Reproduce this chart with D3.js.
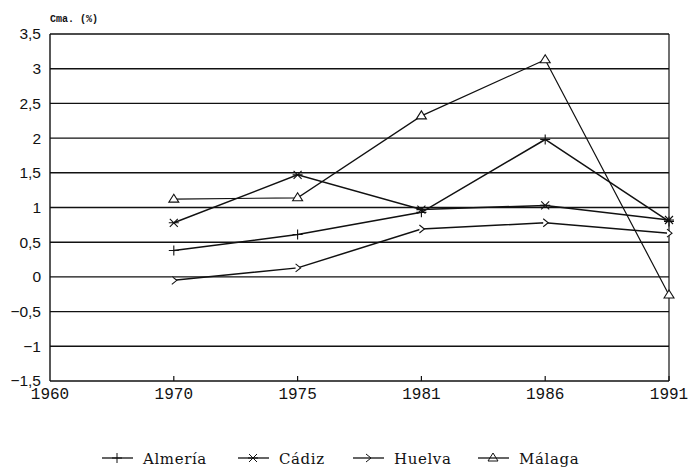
<!DOCTYPE html>
<html>
<head>
  <meta charset="utf-8">
  <script src="https://cdn.jsdelivr.net/npm/d3@7/dist/d3.min.js"></script>
  <style>
    body { margin: 0; background: #fff; }
  </style>
</head>
<body>
  <svg width="690" height="468"></svg>
  <script>
    const years = ['1960', '1970', '1975', '1981', '1986', '1991'];
    const yTicks = [-1.5, -1, -0.5, 0, 0.5, 1, 1.5, 2, 2.5, 3, 3.5];
    const seriesNames = ['Almería', 'Cádiz', 'Huelva', 'Málaga'];
    // values from 1970 to 1991
    const almeria = [0.38, 0.61, 0.93, 1.98, 0.80];
    const cadiz = [0.78, 1.47, 0.97, 1.03, 0.82];
    const huelva = [-0.05, 0.13, 0.69, 0.78, 0.63];
    const malaga = [1.12, 1.14, 2.32, 3.13, -0.26];

    const svg = d3.select('svg');
    const plotLeft = 50, plotRight = 669, plotTop = 34, plotBottom = 381;

    const x = d3.scalePoint().domain(years).range([plotLeft, plotRight]);
    const y = d3.scaleLinear().domain([-1.5, 3.5]).range([plotBottom, plotTop]);

    const fmt = v => String(v).replace('.', ',').replace('-', '\u2212');

    // grid lines
    svg.append('g')
      .selectAll('line')
      .data(yTicks)
      .enter()
      .append('line')
      .attr('x1', plotLeft).attr('x2', plotRight)
      .attr('y1', d => y(d)).attr('y2', d => y(d))
      .attr('stroke', '#111')
      .attr('stroke-width', 1.4);

    // frame sides
    svg.append('line').attr('x1', plotLeft).attr('x2', plotLeft).attr('y1', plotTop).attr('y2', plotBottom)
      .attr('stroke', '#111').attr('stroke-width', 1.4);
    svg.append('line').attr('x1', plotRight).attr('x2', plotRight).attr('y1', plotTop).attr('y2', plotBottom)
      .attr('stroke', '#111').attr('stroke-width', 1.2);

    // y axis labels
    svg.append('g')
      .selectAll('text')
      .data(yTicks)
      .enter()
      .append('text')
      .attr('x', 41)
      .attr('y', d => y(d))
      .attr('dy', '0.35em')
      .attr('text-anchor', 'end')
      .style('font-family', 'Liberation Sans, Arial, sans-serif')
      .style('font-size', '15.5px')
      .style('fill', '#111')
      .text(fmt);

    // x ticks and labels
    svg.append('g')
      .selectAll('line')
      .data(years.slice(1))
      .enter()
      .append('line')
      .attr('x1', d => x(d)).attr('x2', d => x(d))
      .attr('y1', plotBottom).attr('y2', plotBottom - 5)
      .attr('stroke', '#111').attr('stroke-width', 1.2);

    svg.append('g')
      .selectAll('text')
      .data(years)
      .enter()
      .append('text')
      .attr('x', d => x(d))
      .attr('y', 399)
      .attr('text-anchor', 'middle')
      .style('font-family', 'Liberation Mono, DejaVu Sans Mono, monospace')
      .style('font-size', '16px')
      .style('fill', '#111')
      .text(d => d);

    // axis title
    svg.append('text')
      .attr('x', 50).attr('y', 22)
      .style('font-family', 'Liberation Mono, monospace')
      .style('font-size', '10px')
      .style('font-weight', 'bold')
      .style('fill', '#111')
      .text('Cma. (%)');

    // markers
    const markers = {
      'Almería': 'M-5,0H5M0,-5V5',
      'Cádiz': 'M-5,0H5M-4,-4L4,4M-4,4L4,-4',
      'Huelva': 'M-2,-4L3,0L-2,4',
      'Málaga': 'M-5,3L0,-5L5,3Z'
    };

    const allSeries = [almeria, cadiz, huelva, malaga];
    const line = d3.line()
      .x((d, i) => x(years[i + 1]))
      .y(d => y(d));

    allSeries.forEach((vals, k) => {
      const name = seriesNames[k];
      svg.append('path')
        .datum(vals)
        .attr('d', line)
        .attr('fill', 'none')
        .attr('stroke', '#111')
        .attr('stroke-width', k === 3 ? 1.2 : 1.5);
      svg.append('g')
        .selectAll('path')
        .data(vals)
        .enter()
        .append('path')
        .attr('transform', (d, i) => `translate(${x(years[i + 1])},${y(d)})`)
        .attr('d', markers[name])
        .attr('fill', '#fff')
        .attr('stroke', '#111')
        .attr('stroke-width', 1.1);
    });

    // legend
    const legendX = [102, 238, 353, 478];
    const legend = svg.append('g')
      .selectAll('g')
      .data(seriesNames)
      .enter()
      .append('g')
      .attr('transform', (d, i) => `translate(${legendX[i]},458)`);

    legend.append('line')
      .attr('x1', 0).attr('x2', 31)
      .attr('stroke', '#111').attr('stroke-width', 1.3);
    legend.append('path')
      .attr('transform', 'translate(15,0)')
      .attr('d', d => markers[d])
      .attr('fill', 'none')
      .attr('stroke', '#111')
      .attr('stroke-width', 1);
    legend.append('text')
      .attr('x', 41)
      .attr('y', 6)
      .style('font-family', 'DejaVu Serif, Liberation Serif, serif')
      .style('font-size', '15px')
      .style('letter-spacing', '0.6px')
      .style('fill', '#111')
      .text(d => d);
  </script>
</body>
</html>
